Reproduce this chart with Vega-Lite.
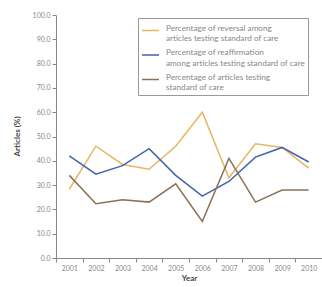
{
  "$schema": "https://vega.github.io/schema/vega-lite/v6.json",
  "autosize": {"type": "none"},
  "width": 266,
  "height": 243,
  "padding": {"left": 56, "top": 15, "right": 0, "bottom": 29},
  "background": "white",
  "config": {
    "font": "Lato",
    "view": {"stroke": null},
    "style": {"guide-label": {"lineHeight": 10.5}},
    "axis": {"domainColor": "#888", "tickColor": "#888", "labelColor": "#888", "labelFontSize": 7, "labelFont": "Lato", "grid": false, "tickSize": 4}
  },
  "data": {
    "values": [
      {"year": "2001", "series": "rev", "value": 28.3},
      {"year": "2002", "series": "rev", "value": 46},
      {"year": "2003", "series": "rev", "value": 38.5},
      {"year": "2004", "series": "rev", "value": 36.5},
      {"year": "2005", "series": "rev", "value": 46},
      {"year": "2006", "series": "rev", "value": 60},
      {"year": "2007", "series": "rev", "value": 33},
      {"year": "2008", "series": "rev", "value": 47},
      {"year": "2009", "series": "rev", "value": 45.5},
      {"year": "2010", "series": "rev", "value": 37},
      {"year": "2001", "series": "reaff", "value": 42},
      {"year": "2002", "series": "reaff", "value": 34.5},
      {"year": "2003", "series": "reaff", "value": 38},
      {"year": "2004", "series": "reaff", "value": 45},
      {"year": "2005", "series": "reaff", "value": 34},
      {"year": "2006", "series": "reaff", "value": 25.5},
      {"year": "2007", "series": "reaff", "value": 31.5},
      {"year": "2008", "series": "reaff", "value": 41.5},
      {"year": "2009", "series": "reaff", "value": 45.5},
      {"year": "2010", "series": "reaff", "value": 39.5},
      {"year": "2001", "series": "test", "value": 34},
      {"year": "2002", "series": "test", "value": 22.3},
      {"year": "2003", "series": "test", "value": 24},
      {"year": "2004", "series": "test", "value": 23},
      {"year": "2005", "series": "test", "value": 30.5},
      {"year": "2006", "series": "test", "value": 15},
      {"year": "2007", "series": "test", "value": 41},
      {"year": "2008", "series": "test", "value": 23},
      {"year": "2009", "series": "test", "value": 28},
      {"year": "2010", "series": "test", "value": 28}
    ]
  },
  "mark": {"type": "line", "strokeWidth": 1.5},
  "encoding": {
    "x": {
      "field": "year", "type": "ordinal", "bandPosition": 0.5,
      "scale": {"type": "band", "paddingInner": 0, "paddingOuter": 0},
      "axis": {"labelAngle": 0, "tickBand": "extent", "title": "Year", "titleFontSize": 8, "titleFontWeight": "bold", "titleColor": "#444", "titlePadding": 3, "labelPadding": 2}
    },
    "y": {
      "field": "value", "type": "quantitative",
      "scale": {"domain": [0, 100], "nice": false},
      "axis": {"values": [0, 10, 20, 30, 40, 50, 60, 70, 80, 90, 100], "format": ".1f", "title": "Articles (%)", "titleFontSize": 8, "titleFontWeight": "bold", "titleColor": "#444", "titleX": -39, "titleY": 121, "titleAngle": -90, "titleAlign": "center", "titleBaseline": "middle", "labelPadding": 2}
    },
    "color": {
      "field": "series", "type": "nominal",
      "scale": {"domain": ["rev", "reaff", "test"], "range": ["#e8b560", "#4262aa", "#8c7156"]},
      "legend": {
        "title": null,
        "orient": "none",
        "legendX": 82,
        "legendY": 3,
        "direction": "vertical",
        "symbolType": "stroke",
        "symbolSize": 289,
        "symbolStrokeWidth": 1.5,
        "labelExpr": "datum.value == 'rev' ? ['Percentage of reversal among', 'articles testing standard of care'] : datum.value == 'reaff' ? ['Percentage of reaffirmation', 'among articles testing standard of care'] : ['Percentage of articles testing', 'standard of care']",
        "labelFontSize": 8.2,
        "labelBaseline": "alphabetic",
        "labelColor": "#888",
        "labelLimit": 220,
        "labelOffset": 6,
        "rowPadding": 2.5,
        "padding": 3,
        "strokeColor": "#999",
        "fillColor": "white"
      }
    }
  }
}
